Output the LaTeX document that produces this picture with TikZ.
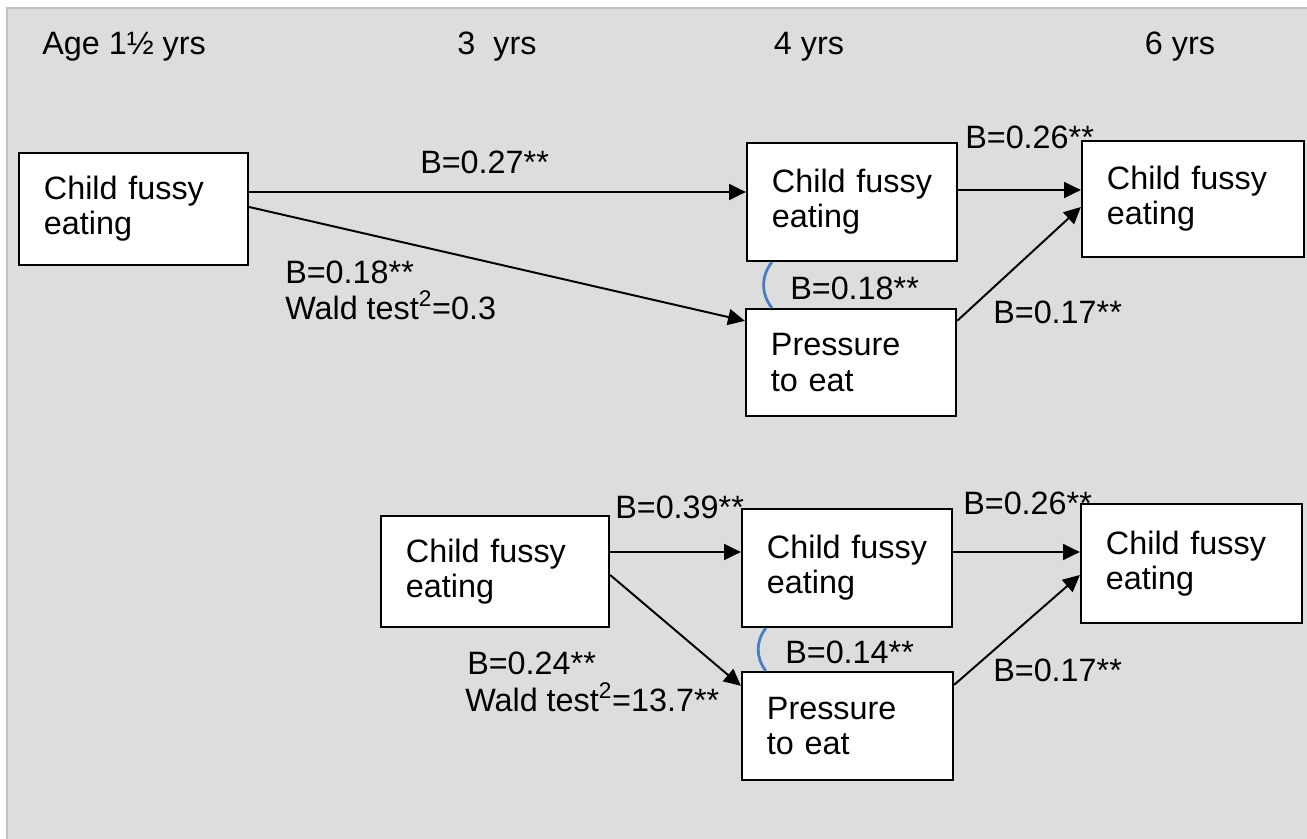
\documentclass[tikz,border=0pt]{standalone}
\usepackage{fontspec}
\setmainfont{Liberation Sans}
\usetikzlibrary{arrows.meta,calc}
\definecolor{bggray}{RGB}{221,221,221}
\definecolor{edgegray}{RGB}{192,192,192}
\definecolor{corrblue}{RGB}{74,126,193}
\begin{document}
\begin{tikzpicture}[x=0.025cm,y=-0.025cm,font=\fontsize{23}{25}\selectfont,
        fbox/.style={draw,fill=white,line width=1.6pt,inner xsep=0.625cm,inner ysep=0pt,align=left,text width=#1},
        lbl/.style={anchor=west,inner sep=0pt},
        arr/.style={-{Triangle[length=0.42cm,width=0.4cm]},line width=1.4pt},
        corr/.style={corrblue,line width=2pt}]
        \useasboundingbox (0,0) rectangle (1307,839);
        \draw[edgegray,fill=bggray,line width=1.4pt] (7,8) rectangle (1308,840);
        % ages
        \node[lbl] (age1) at (42,47) {Age 1½ yrs};
        \node[inner sep=0pt] (age3) at (497,47) {3~ yrs};
        \node[inner sep=0pt] (age4) at (809,47) {4 yrs};
        \node[inner sep=0pt] (age6) at (1180,47) {6 yrs};
        % upper model
        \node[fbox=4.475cm,minimum height=2.8cm] (a) at (133.5,209) {Child~fussy\\eating};
        \node[fbox=4cm,minimum height=2.95cm] (b) at (852,202) {Child~fussy\\eating};
        \node[fbox=4.3cm,minimum height=2.9cm] (c) at (1193,199) {Child~fussy\\eating};
        \node[fbox=4cm,minimum height=2.675cm] (d) at (851,362.5) {Pressure\\to eat};
        \draw[arr] ($(a.east)+(0,-17)$) -- ($(b.west)+(0,-10)$);
        \draw[arr] ($(a.east)+(0,-2)$) -- ($(d.north west)+(0,13)$);
        \draw[arr] ($(b.east)+(0,-12)$) -- ($(c.west)+(0,-9)$);
        \draw[arr] ($(d.north east)+(0,13)$) -- ($(c.west)+(0,8)$);
        \draw[corr] ($(b.south west)+(26,0)$) to[bend right=38] ($(d.north west)+(27,0)$);
        \node[lbl] (ab) at (420,162) {B=0.27**};
        \node[lbl] (ad) at (285,272) {B=0.18**};
        \node[lbl] (adw) at (285,305) {Wald test\textsuperscript{2}=0.3};
        \node[lbl] (bc) at (965,137) {B=0.26**};
        \node[lbl] (bd) at (790,288) {B=0.18**};
        \node[lbl] (dc) at (993,312) {B=0.17**};
        % lower model
        \node[fbox=4.45cm,minimum height=2.775cm] (e) at (495,571.5) {Child~fussy\\eating};
        \node[fbox=4cm,minimum height=2.95cm] (f) at (847,568) {Child~fussy\\eating};
        \node[fbox=4.275cm,minimum height=2.975cm] (g) at (1191.5,563.5) {Child~fussy\\eating};
        \node[fbox=4.025cm,minimum height=2.7cm] (h) at (847.5,726) {Pressure\\to eat};
        \draw[arr] ($(e.east)+(0,-19.5)$) -- ($(f.west)+(0,-16)$);
        \draw[arr] ($(e.east)+(0,3.5)$) -- ($(h.north west)+(0,15)$);
        \draw[arr] ($(f.east)+(0,-16)$) -- ($(g.west)+(0,-11.5)$);
        \draw[arr] ($(h.north east)+(0,14)$) -- ($(g.west)+(0,11.5)$);
        \draw[corr] ($(f.south west)+(25,0)$) to[bend right=38] ($(h.north west)+(25,0)$);
        \node[lbl] (ef) at (615,507) {B=0.39**};
        \node[lbl] (fg) at (963,503) {B=0.26**};
        \node[lbl] (fh) at (785,652) {B=0.14**};
        \node[lbl] (hg) at (993,670) {B=0.17**};
        \node[lbl] (eh) at (467,663) {B=0.24**};
        \node[lbl] (ehw) at (465,697) {Wald test\textsuperscript{2}=13.7**};
\end{tikzpicture}
\end{document}
